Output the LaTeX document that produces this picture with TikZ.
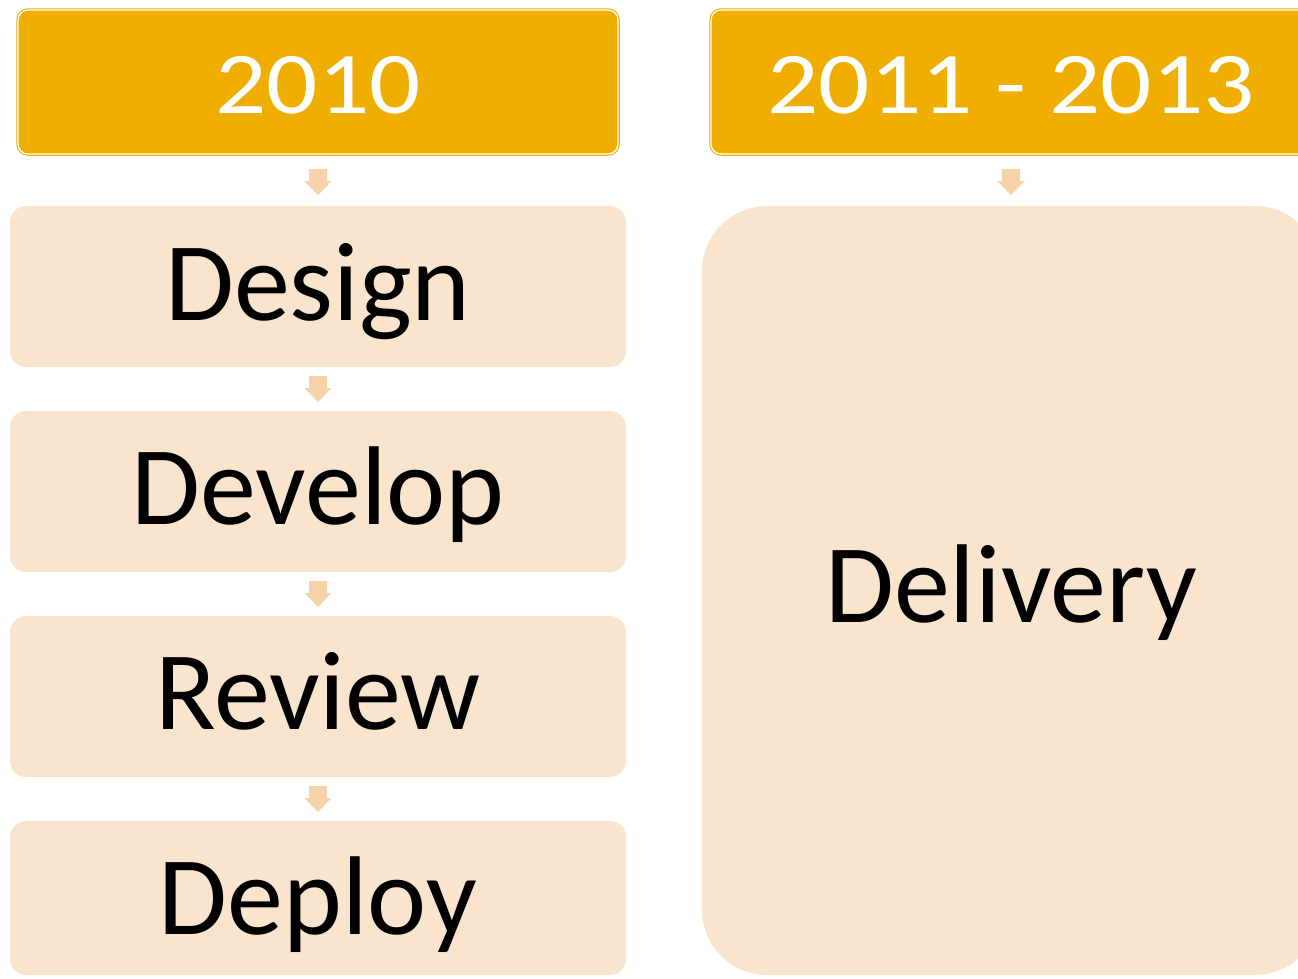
\documentclass[tikz,border=0pt]{standalone}
\usepackage{fontspec}
\setmainfont{Carlito}
\newfontfamily\hdrfont[FakeStretch=1.15]{Carlito}
\usetikzlibrary{calc}
\definecolor{hdr}{HTML}{F0AE00}
\definecolor{boxc}{HTML}{F9E4CD}
\definecolor{arrc}{HTML}{F6D3A9}
\tikzset{
  hdrbox/.style={draw=hdr, fill=hdr, double=white, double distance=1.3pt, line width=1.1pt,
    rounded corners=10pt, minimum width=600pt, minimum height=144pt, inner sep=0pt,
    text=white, font=\hdrfont\fontsize{88}{90}\selectfont, text height=62pt, text depth=0pt},
  stepbox/.style={fill=boxc, rounded corners=16pt, minimum width=616pt, minimum height=161pt,
    inner sep=0pt, font=\fontsize{112}{120}\selectfont, text depth=0pt},
  bigbox/.style={fill=boxc, rounded corners=65pt, minimum width=618pt, minimum height=769pt,
    inner sep=0pt, font=\fontsize{112}{120}\selectfont, text depth=0pt, text height=63pt},
  blockarr/.style={fill=arrc}
}
\newcommand\blockarrow[1]{\fill[blockarr, shift={(#1)}] (-9,-13) -- (9,-13) -- (9,-1) -- (13.5,-1) -- (0,13) -- (-13.5,-1) -- (-9,-1) -- cycle;}
\begin{document}
\begin{tikzpicture}[x=1pt,y=-1pt]
\useasboundingbox (0,0) rectangle (1298,978);
\clip (0,0) rectangle (1298,978);
\node[hdrbox] (h1) at (318,82) {2010};
\node[hdrbox] (h2) at (1011,82) {2011 - 2013};
\node[stepbox, text height=67pt] (design) at (318,286.5) {Design};
\node[stepbox, text height=65pt] (develop) at (318,491.5) {Develop};
\node[stepbox, text height=65pt] (review) at (318,696.5) {Review};
\node[stepbox, text height=72pt, minimum height=154pt] (deploy) at (318,898) {Deploy};
\node[bigbox] (delivery) at (1011,590.5) {Delivery};
\coordinate (a1) at ($(h1.south)!0.5!(design.north)+(0,2)$);
\coordinate (a2) at ($(design.south)!0.5!(develop.north)$);
\coordinate (a3) at ($(develop.south)!0.5!(review.north)$);
\coordinate (a4) at ($(review.south)!0.5!(deploy.north)$);
\coordinate (a5) at ($(h2.south)!0.5!(delivery.north)+(0,2)$);
\blockarrow{a1}
\blockarrow{a2}
\blockarrow{a3}
\blockarrow{a4}
\blockarrow{a5}
\end{tikzpicture}
\end{document}
